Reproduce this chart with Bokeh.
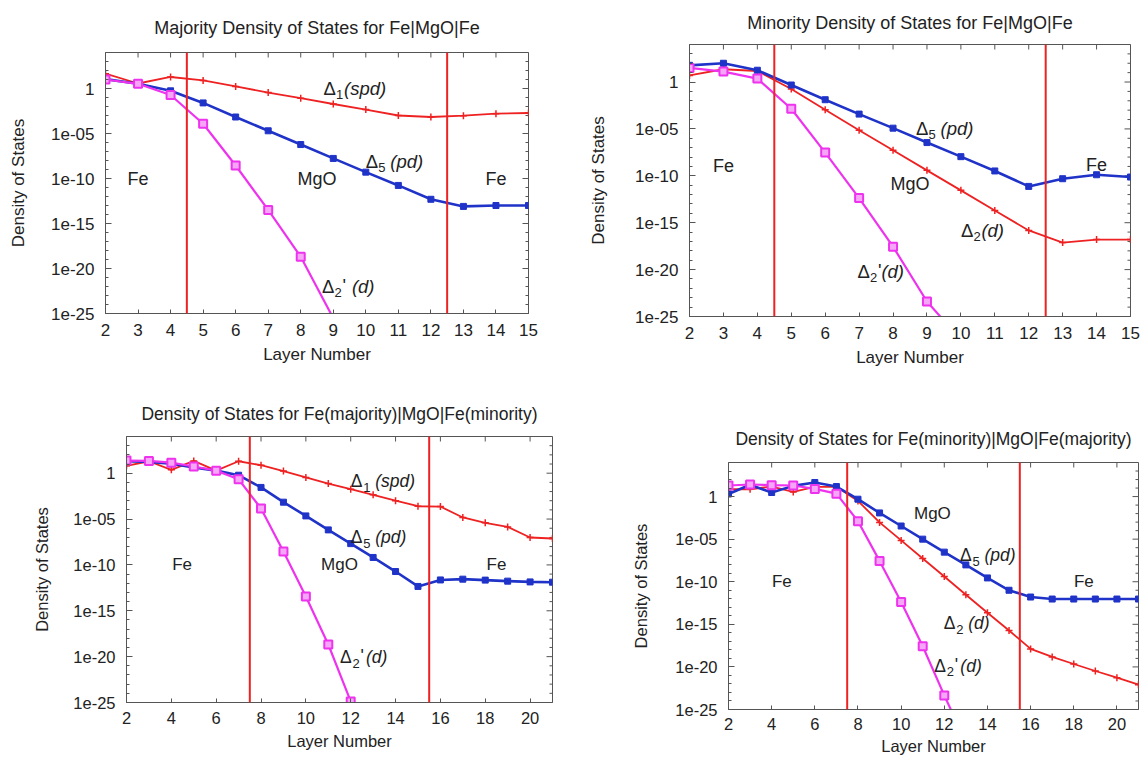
import math
from bokeh.plotting import figure
from bokeh.models import (Range1d, FixedTicker, Span, Label, CustomJSTickFormatter)
from bokeh.layouts import column, row
from bokeh.embed import file_html
from bokeh.resources import INLINE

FONT = "Liberation Sans"
RED = "#ee2222"
BLUE = "#1f33c8"
MAG = "#ee33ee"
MAG_FILL = "#f6a6f6"
FRAME = "#555555"

# ---------------- data ----------------
layers_a = [2, 3, 4, 5, 6, 7, 8, 9, 10, 11, 12, 13, 14, 15]
layers_b = [2, 3, 4, 5, 6, 7, 8, 9, 10, 11, 12, 13, 14, 15, 16, 17, 18, 19, 20, 21]
xticks_a = [2, 3, 4, 5, 6, 7, 8, 9, 10, 11, 12, 13, 14, 15]
xticks_b = [2, 4, 6, 8, 10, 12, 14, 16, 18, 20]
yticks = [1e-25, 1e-20, 1e-15, 1e-10, 1e-05, 1]
yminor = [1e-24, 1e-23, 1e-22, 1e-21, 1e-19, 1e-18, 1e-17, 1e-16,
          1e-14, 1e-13, 1e-12, 1e-11, 1e-09, 1e-08, 1e-07, 1e-06,
          1e-04, 1e-03, 1e-02, 1e-01, 10, 100, 1000]
ylim = [1e-25, 1e4]
interfaces_a = [4.5, 12.5]
interfaces_b = [7.5, 15.5]

# Majority Fe|MgO|Fe
maj_d1 = [44, 3.6, 19, 7.9, 1.7, 0.35, 0.083, 0.019, 4.5e-3, 1.0e-3, 6.8e-4, 9.5e-4, 1.6e-3, 1.9e-3]
maj_d5 = [11, 3.3, 0.55, 0.025, 6.8e-4, 2.0e-5, 5.9e-7, 1.7e-8, 5.1e-10, 1.7e-11, 4.9e-13, 7.9e-14, 1.0e-13, 1.0e-13]
maj_d2p_x = [2, 3, 4, 5, 6, 7, 8, 9]
maj_d2p = [10, 3.3, 0.19, 1.2e-4, 2.8e-9, 3.2e-14, 2.0e-19, 3.0e-26]

# Minority Fe|MgO|Fe
min_d5 = [60, 100, 18, 0.48, 0.013, 3.8e-4, 1.2e-5, 3.5e-7, 1.1e-8, 3.3e-10, 7.4e-12, 4.9e-11, 1.3e-10, 7.4e-11]
min_d2 = [5.1, 23, 15, 0.18, 1.1e-3, 7.2e-6, 5.2e-8, 3.8e-10, 2.8e-12, 2.0e-14, 1.5e-16, 7.6e-18, 1.6e-17, 1.6e-17]
min_d2p_x = [2, 3, 4, 5, 6, 7, 8, 9, 10]
min_d2p = [32, 13, 2.3, 1.4e-3, 3.0e-8, 4.2e-13, 2.8e-18, 4.0e-24, 3.2e-28]

# Fe(majority)|MgO|Fe(minority)
ab_d1 = [6.3, 20, 2.3, 22, 1.9, 20, 7.4, 1.7, 0.34, 0.074, 0.018, 4.4e-3, 1.0e-3, 2.5e-4,
         2.3e-4, 1.5e-5, 3.9e-6, 1.4e-6, 9.8e-8, 7.6e-8]
ab_d5 = [20, 17, 10.5, 4.2, 1.9, 0.6, 0.028, 6.9e-4, 2.2e-5, 6.6e-7, 2.1e-8, 6.5e-10, 1.9e-11,
         4.5e-13, 2.3e-12, 2.8e-12, 2.2e-12, 1.7e-12, 1.4e-12, 1.3e-12]
ab_d2p_x = [2, 3, 4, 5, 6, 7, 8, 9, 10, 11, 12]
ab_d2p = [24, 22, 14, 5.4, 1.9, 0.22, 1.4e-4, 2.9e-9, 3.6e-14, 2.1e-19, 1.3e-25]

# Fe(minority)|MgO|Fe(majority)
ba_d5 = [2.0, 24, 3.0, 18, 45, 15, 0.49, 0.012, 3.5e-4, 1.0e-5, 3.0e-7, 9.5e-9, 2.8e-10,
         1.0e-11, 1.6e-12, 9.3e-13, 9.3e-13, 9.3e-13, 9.3e-13, 9.3e-13]
ba_d2 = [7.2, 7.2, 15, 3.5, 14, 14, 0.31, 9.3e-4, 7.1e-6, 5.4e-8, 4.1e-10, 3.0e-12, 2.3e-14,
         1.9e-16, 1.3e-18, 1.5e-19, 2.2e-20, 3.3e-21, 5.4e-22, 8.1e-23]
ba_d2p_x = [2, 3, 4, 5, 6, 7, 8, 9, 10, 11, 12, 13]
ba_d2p = [20, 26, 22, 20, 7.9, 2.2, 1.3e-3, 2.8e-8, 4.2e-13, 2.7e-18, 4.5e-24, 1.6e-29]

FMT = CustomJSTickFormatter(code="""
const e = Math.round(Math.log10(tick));
if (e === 0) { return "1"; }
const a = Math.abs(e);
return (e < 0 ? "1e-" : "1e+") + (a < 10 ? "0" + a : "" + a);
""")


def style_axis(ax, fs, tick_in, minor_in, label_standoff):
    ax.axis_line_color = FRAME
    ax.major_tick_line_color = FRAME
    ax.minor_tick_line_color = FRAME
    ax.major_tick_out = 0
    ax.major_tick_in = tick_in
    ax.minor_tick_out = 0
    ax.minor_tick_in = minor_in
    ax.major_label_text_font = FONT
    ax.major_label_text_color = "#222222"
    ax.major_label_text_font_size = fs
    ax.major_label_standoff = label_standoff
    ax.axis_label_text_font = FONT
    ax.axis_label_text_font_size = fs
    ax.axis_label_text_font_style = "normal"
    ax.axis_label_text_color = "#222222"


def text_label(p, x, y, txt, fs):
    p.add_layout(Label(x=x, y=y, text=txt, text_font=FONT, text_font_size=fs,
                       text_align="center", text_baseline="middle", text_color="#222222"))


def delta_label(p, x, y, sub, rest, prime=False, gap=0, fs="18.5px"):
    pieces = [("\u0394", 0, 0, fs, "normal"), (sub, 12.5, -6, "13px", "normal")]
    off = 20.5
    if prime:
        pieces.append(("'", 20.5, 1, fs, "normal"))
        off = 26
    pieces.append((rest, off + gap, 0, fs, "italic"))
    for t, dx, dy, size, style in pieces:
        p.add_layout(Label(x=x, y=y, x_offset=dx, y_offset=dy, text=t, text_font=FONT,
                           text_font_size=size, text_font_style=style, text_align="left",
                           text_baseline="middle", text_color="#222222"))


def make_panel(title, w, h, borders, xr, xticks, interfaces, series, fs="17px",
               title_fs="18px", title_standoff=20, ylab_standoff=20, xlab_standoff=6,
               ytick_standoff=11, xtick_standoff=10):
    left, right, top, bottom = borders
    p = figure(width=w, height=h, y_axis_type="log",
               x_range=Range1d(xr[0], xr[1]), y_range=Range1d(ylim[0], ylim[1]),
               output_backend="svg", toolbar_location=None,
               min_border_left=left, min_border_right=right,
               min_border_top=top, min_border_bottom=bottom)
    if "frame_align" in p.properties():
        p.frame_align = False
    p.xgrid.visible = False
    p.ygrid.visible = False
    p.outline_line_color = FRAME
    p.background_fill_color = "white"
    p.border_fill_color = "white"

    p.title.text = title
    p.title.align = "center"
    p.title.vertical_align = "top"
    p.title.text_font = FONT
    p.title.text_font_size = title_fs
    p.title.text_font_style = "normal"
    p.title.text_color = "#222222"
    p.title.standoff = title_standoff

    p.xaxis.ticker = FixedTicker(ticks=xticks)
    p.yaxis.ticker = FixedTicker(ticks=yticks, minor_ticks=yminor)
    p.yaxis.formatter = FMT
    p.xaxis.axis_label = "Layer Number"
    p.yaxis.axis_label = "Density of States"
    style_axis(p.xaxis[0], fs, 4, 0, xtick_standoff)
    style_axis(p.yaxis[0], fs, 6, 3, ytick_standoff)
    p.xaxis.axis_label_standoff = xlab_standoff
    p.yaxis.axis_label_standoff = ylab_standoff

    # mirrored inward ticks on the top and right edges (clipped to frame)
    p.scatter(xticks, [ylim[1]] * len(xticks), marker="dash", angle=math.pi / 2, size=10,
              line_color=FRAME, line_width=1)
    p.scatter([xr[1]] * len(yticks), yticks, marker="dash", size=12,
              line_color=FRAME, line_width=1)
    p.scatter([xr[1]] * len(yminor), yminor, marker="dash", size=6,
              line_color=FRAME, line_width=1)

    for loc in interfaces:
        p.add_layout(Span(location=loc, dimension="height", line_color=RED, line_width=2))

    for xs, ys, kind in series:
        if kind == "red":
            p.line(xs, ys, line_color=RED, line_width=1.8)
            p.scatter(xs, ys, marker="cross", size=7, line_color=RED, line_width=1.5)
        elif kind == "blue":
            p.line(xs, ys, line_color=BLUE, line_width=2.6)
            p.scatter(xs, ys, marker="square", size=6, line_color=BLUE, fill_color=BLUE)
        else:
            p.line(xs, ys, line_color=MAG, line_width=2.2)
            p.scatter(xs, ys, marker="square", size=8, line_color=MAG, line_width=2,
                      fill_color=MAG_FILL)
    return p


FS_TOP = "17px"
FS_BOT = "16.5px"

# Panel 1
p1 = make_panel("Majority Density of States for Fe|MgO|Fe", 570, 390, (105, 42, 52, 77),
                (2, 15), xticks_a, interfaces_a,
                [(layers_a, maj_d1, "red"), (layers_a, maj_d5, "blue"), (maj_d2p_x, maj_d2p, "mag")],
                fs=FS_TOP, title_standoff=26, ylab_standoff=20)
text_label(p1, 3.0, 1e-10, "Fe", "18px")
text_label(p1, 8.5, 1e-10, "MgO", "18px")
text_label(p1, 14.0, 1e-10, "Fe", "18px")
delta_label(p1, 8.7, 1.0, "1", "(spd)")
delta_label(p1, 10.0, 8e-9, "5", "(pd)", gap=4)
delta_label(p1, 8.65, 1e-22, "2", "(d)", prime=True, gap=4)

# Panel 2
p2 = make_panel("Minority Density of States for Fe|MgO|Fe", 574, 390, (119, 14, 44, 74),
                (2, 15), xticks_a, interfaces_a,
                [(layers_a, min_d2, "red"), (layers_a, min_d5, "blue"), (min_d2p_x, min_d2p, "mag")],
                fs=FS_TOP, title_standoff=20, ylab_standoff=24)
text_label(p2, 3.0, 1.1e-9, "Fe", "18px")
text_label(p2, 8.5, 1.3e-11, "MgO", "18px")
text_label(p2, 14.0, 1.4e-9, "Fe", "18px")
delta_label(p2, 8.68, 1.2e-5, "5", "(pd)", gap=4)
delta_label(p2, 10.0, 1.6e-16, "2", "(d)")
delta_label(p2, 6.95, 6e-21, "2", "(d)", prime=True, gap=-2)

# Panel 3
p3 = make_panel("Density of States for Fe(majority)|MgO|Fe(minority)", 570, 370, (126, 18, 46, 58),
                (2, 21), xticks_b, interfaces_b,
                [(layers_b, ab_d1, "red"), (layers_b, ab_d5, "blue"), (ab_d2p_x, ab_d2p, "mag")],
                fs=FS_BOT, title_fs="17.5px", title_standoff=22, ylab_standoff=19,
                xtick_standoff=9, xlab_standoff=5)
text_label(p3, 4.48, 1e-10, "Fe", "17px")
text_label(p3, 11.5, 1e-10, "MgO", "17px")
text_label(p3, 18.5, 1e-10, "Fe", "17px")
delta_label(p3, 12.0, 0.13, "1", "(spd)", gap=4, fs="17.5px")
delta_label(p3, 12.0, 1.0e-7, "5", "(pd)", gap=4, fs="17.5px")
delta_label(p3, 11.52, 9e-21, "2", "(d)", prime=True, gap=0, fs="17.5px")

# Panel 4
p4 = make_panel("Density of States for Fe(minority)|MgO|Fe(majority)", 574, 370, (158, 6, 72, 51),
                (2, 21), xticks_b, interfaces_b,
                [(layers_b, ba_d2, "red"), (layers_b, ba_d5, "blue"), (ba_d2p_x, ba_d2p, "mag")],
                fs=FS_BOT, title_fs="17.5px", title_standoff=23, ylab_standoff=22,
                xtick_standoff=8, xlab_standoff=4)
text_label(p4, 11.45, 1.1e-2, "MgO", "17px")
text_label(p4, 4.47, 1e-10, "Fe", "17px")
text_label(p4, 18.47, 1e-10, "Fe", "17px")
delta_label(p4, 12.73, 1.3e-7, "5", "(pd)", gap=4, fs="17.5px")
delta_label(p4, 11.97, 1.3e-15, "2", "(d)", gap=4, fs="17.5px")
delta_label(p4, 11.54, 1.4e-20, "2", "(d)", prime=True, gap=0, fs="17.5px")

layout = column(row(p1, p2), row(p3, p4))
open("out.html", "w").write(file_html(layout, INLINE))
